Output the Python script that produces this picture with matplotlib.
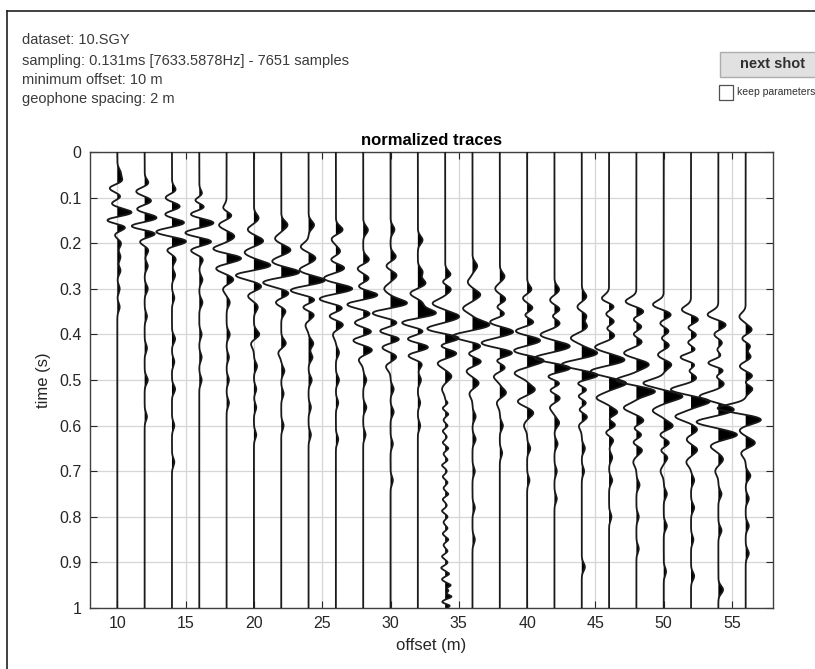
import numpy as np
import matplotlib
matplotlib.use('Agg')
import matplotlib.pyplot as plt
from matplotlib.patches import Rectangle
from matplotlib.lines import Line2D

plt.rcParams['font.family'] = ['Liberation Sans', 'DejaVu Sans']

# geophone offsets (m)
offsets = list(range(10, 58, 2))

# picked wavelet lobes per trace: (time s, normalized amplitude), + to the right
lobes = [
    [(0.045, 0.2), (0.065, 0.4), (0.078, -0.6), (0.10, 0.35), (0.112, -0.5), (0.134, 1.1), (0.149, -1.0),
     (0.164, 0.7), (0.18, -0.25), (0.20, 0.25), (0.23, 0.2), (0.26, 0.2), (0.30, 0.15), (0.34, 0.15)],
    [(0.07, 0.3), (0.086, -0.6), (0.108, 0.5), (0.125, -0.6), (0.145, 0.9), (0.163, -1.1), (0.178, 0.9),
     (0.195, -0.4), (0.215, 0.25), (0.25, 0.2), (0.30, 0.2), (0.36, 0.15), (0.43, 0.15), (0.50, 0.2), (0.58, 0.15)],
    [(0.085, 0.3), (0.10, -0.5), (0.12, 0.6), (0.137, -0.6), (0.155, 0.9), (0.175, -1.1), (0.196, 1.0),
     (0.213, -0.4), (0.235, 0.25), (0.27, 0.2), (0.32, 0.15), (0.41, 0.2), (0.46, 0.15), (0.52, 0.2),
     (0.60, 0.15), (0.68, 0.15)],
    [(0.095, 0.3), (0.106, -0.5), (0.12, 0.5), (0.137, -0.7), (0.155, 1.0), (0.178, -1.0), (0.196, 0.9),
     (0.215, -0.6), (0.235, 0.25), (0.28, 0.2), (0.33, 0.2), (0.40, 0.15), (0.45, 0.15), (0.50, 0.15)],
    [(0.125, -0.3), (0.138, 0.4), (0.16, -0.5), (0.185, 0.5), (0.213, -0.9), (0.233, 1.0), (0.255, -0.7),
     (0.28, 0.45), (0.30, -0.25), (0.33, 0.2), (0.40, 0.2), (0.45, 0.15), (0.50, 0.15), (0.55, 0.15)],
    [(0.145, 0.3), (0.17, -0.4), (0.195, 0.6), (0.22, -0.6), (0.249, 1.1), (0.27, -1.2), (0.295, 0.5),
     (0.315, -0.4), (0.34, 0.25), (0.40, 0.35), (0.42, -0.2), (0.47, 0.2), (0.52, 0.15), (0.56, 0.15), (0.62, 0.15)],
    [(0.16, 0.4), (0.19, -0.4), (0.215, 0.6), (0.24, -0.6), (0.264, 1.2), (0.286, -1.2), (0.31, 0.5),
     (0.33, -0.4), (0.348, 0.3), (0.42, 0.3), (0.44, -0.2), (0.48, 0.2), (0.53, 0.15), (0.60, 0.15)],
    [(0.16, 0.35), (0.208, -0.5), (0.233, 0.45), (0.259, -0.6), (0.282, 1.1), (0.303, -1.2), (0.325, 0.5),
     (0.34, -0.5), (0.356, 0.4), (0.38, -0.2), (0.42, 0.3), (0.45, 0.25), (0.50, 0.2), (0.56, 0.15), (0.62, 0.15)],
    [(0.171, 0.45), (0.19, -0.3), (0.219, 0.3), (0.237, -0.4), (0.254, 0.6), (0.277, -0.8), (0.30, 1.1),
     (0.322, -1.1), (0.342, 0.5), (0.36, -0.5), (0.378, 0.5), (0.40, -0.2), (0.44, 0.2), (0.50, 0.2),
     (0.55, 0.15), (0.63, 0.15)],
    [(0.171, 0.3), (0.237, 0.4), (0.255, -0.4), (0.278, 0.4), (0.295, -0.4), (0.314, 1.0), (0.334, -1.1),
     (0.354, 0.5), (0.375, -0.6), (0.394, 0.6), (0.413, -0.7), (0.434, 0.6), (0.455, -0.3), (0.50, 0.2),
     (0.56, 0.2), (0.62, 0.15)],
    [(0.17, 0.25), (0.23, 0.35), (0.25, -0.3), (0.27, 0.4), (0.30, -0.4), (0.332, 1.1), (0.353, -1.2),
     (0.375, 0.5), (0.393, -0.8), (0.41, 0.7), (0.428, -0.6), (0.449, 0.4), (0.47, -0.3), (0.52, 0.2),
     (0.57, 0.2), (0.64, 0.15), (0.72, 0.15)],
    [(0.193, 0.3), (0.263, 0.3), (0.288, 0.5), (0.31, -0.5), (0.332, 0.3), (0.354, 1.2), (0.374, -1.1),
     (0.394, 0.5), (0.41, -0.8), (0.428, 0.8), (0.446, -0.7), (0.464, 0.3), (0.50, 0.2), (0.55, 0.15), (0.60, 0.15)],
    [(0.27, 0.4), (0.284, -0.3), (0.30, 0.4), (0.332, -0.8), (0.361, 0.9), (0.388, -1.2), (0.408, 1.0),
     (0.425, -0.5), (0.441, 0.8), (0.463, -0.5), (0.492, 0.4), (0.52, -0.2)],
    [(0.25, 0.3), (0.285, -0.3), (0.313, 0.5), (0.343, -0.6), (0.379, 1.1), (0.404, -1.3), (0.426, 0.6),
     (0.442, -0.4), (0.459, 0.6), (0.48, -0.4), (0.507, 0.4), (0.53, -0.2), (0.58, 0.2), (0.63, 0.2),
     (0.70, 0.15), (0.78, 0.15), (0.85, 0.15)],
    [(0.273, 0.3), (0.30, -0.3), (0.324, 0.4), (0.34, -0.3), (0.355, 0.4), (0.373, -0.7), (0.394, 0.9),
     (0.419, -1.2), (0.441, 0.9), (0.456, -0.4), (0.472, 0.4), (0.492, -0.4), (0.528, 0.4), (0.55, -0.2),
     (0.60, 0.2), (0.66, 0.15)],
    [(0.302, 0.3), (0.32, -0.3), (0.343, 0.4), (0.358, -0.3), (0.373, 0.5), (0.393, -0.8), (0.413, 0.9),
     (0.436, -0.9), (0.457, 1.1), (0.485, -0.8), (0.521, 0.5), (0.547, -0.6), (0.572, 0.4), (0.60, -0.2),
     (0.65, 0.2), (0.72, 0.15)],
    [(0.302, 0.3), (0.325, -0.3), (0.346, 0.4), (0.36, -0.3), (0.374, 0.4), (0.401, -0.9), (0.426, 1.0),
     (0.452, -1.3), (0.474, 1.1), (0.492, -0.6), (0.507, 0.5), (0.522, -0.4), (0.539, 0.4), (0.56, -0.3),
     (0.594, 0.3), (0.64, 0.2), (0.70, 0.15), (0.76, 0.15)],
    [(0.317, 0.3), (0.34, -0.3), (0.361, 0.4), (0.37, -0.2), (0.381, 0.4), (0.408, -0.7), (0.441, 1.0),
     (0.466, -1.3), (0.49, 1.1), (0.507, -0.5), (0.521, 0.5), (0.535, -0.4), (0.55, 0.4), (0.565, -0.3),
     (0.58, 0.4), (0.60, -0.2), (0.65, 0.2), (0.70, 0.15), (0.91, 0.2)],
    [(0.322, -0.5), (0.339, 0.4), (0.355, -0.3), (0.372, 0.4), (0.387, -0.3), (0.401, 0.4), (0.428, -0.9),
     (0.456, 1.0), (0.481, -1.2), (0.507, 1.1), (0.539, -0.8), (0.572, 0.6), (0.585, -0.3), (0.598, 0.5),
     (0.615, -0.3), (0.631, 0.3), (0.67, 0.2), (0.72, 0.2), (0.80, 0.15)],
    [(0.328, -0.7), (0.35, 0.5), (0.367, -0.3), (0.383, 0.4), (0.40, -0.3), (0.415, 0.4), (0.441, -0.8),
     (0.466, 0.8), (0.50, -1.3), (0.525, 1.2), (0.561, -0.8), (0.59, 0.5), (0.605, -0.3), (0.62, 0.4),
     (0.637, -0.3), (0.653, 0.4), (0.68, -0.2), (0.73, 0.2), (0.80, 0.15), (0.87, 0.15)],
    [(0.335, -0.7), (0.357, 0.5), (0.375, -0.3), (0.394, 0.4), (0.408, -0.3), (0.423, 0.4), (0.445, -0.4),
     (0.466, 0.5), (0.507, -1.3), (0.536, 1.2), (0.567, -0.7), (0.601, 0.6), (0.62, -0.3), (0.638, 0.4),
     (0.655, -0.3), (0.668, 0.3), (0.70, -0.2), (0.75, 0.2), (0.82, 0.2), (0.92, 0.15)],
    [(0.346, -0.6), (0.368, 0.5), (0.385, -0.3), (0.401, 0.4), (0.418, -0.3), (0.434, 0.4), (0.45, -0.8),
     (0.466, 0.4), (0.48, -0.3), (0.494, 0.4), (0.521, -1.3), (0.547, 1.2), (0.58, -1.0), (0.609, 0.4),
     (0.63, -0.3), (0.653, 0.4), (0.68, -0.3), (0.72, 0.2), (0.78, 0.2), (0.85, 0.15), (0.93, 0.2)],
    [(0.357, -0.7), (0.379, 0.5), (0.40, -0.3), (0.419, 0.3), (0.433, -0.2), (0.448, 0.3), (0.463, -0.8),
     (0.478, 0.5), (0.492, -0.3), (0.507, 0.4), (0.536, -1.2), (0.565, 1.0), (0.592, -1.4), (0.62, 1.2),
     (0.645, -0.5), (0.674, 0.3), (0.70, -0.2), (0.75, 0.2), (0.83, 0.2), (0.96, 0.3)],
    [(0.361, -0.4), (0.39, 0.4), (0.41, -0.3), (0.426, 0.4), (0.437, -0.2), (0.448, 0.4), (0.47, -0.4),
     (0.492, 0.5), (0.505, -0.3), (0.518, 0.5), (0.562, -1.8), (0.587, 1.0), (0.61, -0.4), (0.638, 0.6),
     (0.66, -0.3), (0.71, 0.3), (0.76, 0.2), (0.82, 0.2), (0.88, 0.2)],
]

# short, jittery noise on the 34 m trace
noise34_t = [0.55, 0.562, 0.575, 0.588, 0.60, 0.612, 0.625, 0.637, 0.65, 0.662, 0.675, 0.687, 0.70,
             0.712, 0.725, 0.737, 0.75, 0.762, 0.775, 0.787, 0.80, 0.812, 0.825, 0.837, 0.85, 0.862,
             0.875, 0.887, 0.90, 0.912, 0.925, 0.937, 0.95, 0.962, 0.975, 0.987, 0.995]
noise34_a = [0.15, -0.15, 0.2, -0.1, 0.15, -0.15, 0.1, -0.15, 0.2, -0.1, 0.15, -0.2, 0.1,
             -0.15, 0.15, -0.1, 0.2, -0.15, 0.1, -0.2, 0.15, -0.1, 0.15, -0.15, 0.2, -0.1,
             0.15, -0.2, 0.15, -0.25, 0.25, -0.2, 0.35, 0.2, 0.4, -0.2, 0.3]

info_lines = ["dataset: 10.SGY",
              "sampling: 0.131ms [7633.5878Hz] - 7651 samples",
              "minimum offset: 10 m",
              "geophone spacing: 2 m"]

t = np.linspace(0, 1, 3000)
sig = 0.0085   # lobe half-width (s)
gain = 1.15    # display gain, offset units per normalized amplitude


def build_trace(picks, width):
    s = np.zeros_like(t)
    for tc, a in picks:
        s += a * np.exp(-0.5 * ((t - tc) / width) ** 2)
    return s


W, H = 815, 669
fig = plt.figure(figsize=(W / 100, H / 100), dpi=100)
ax = fig.add_axes([90 / W, 1 - 608 / H, (773 - 90) / W, (608 - 152) / H])

for off, picks in zip(offsets, lobes):
    s = build_trace(picks, sig)
    if off == 34:
        s = s + build_trace(list(zip(noise34_t, noise34_a)), 0.0035)
    x = off + gain * s
    ax.fill_betweenx(t, off, x, where=s > 0, color='black', lw=0, zorder=3)
    ax.plot(x, t, color='#1a1a1a', lw=1.3, zorder=4)

ax.set_xlim(8, 58)
ax.set_ylim(1, 0)
ax.set_xticks(np.arange(10, 56, 5))
ax.set_yticks(np.round(np.arange(0, 1.01, 0.1), 1))
ax.set_yticklabels(['0'] + ['%.1f' % v for v in np.arange(0.1, 0.95, 0.1)] + ['1'])
ax.grid(True, color='#d6d6d6', lw=0.9, zorder=0)
ax.tick_params(direction='in', top=True, right=True, length=5, width=0.8,
               colors='#262626', labelsize=11.5, pad=6)
for sp in ax.spines.values():
    sp.set_color('#404040')
    sp.set_linewidth(1.0)
ax.set_xlabel('offset (m)', fontsize=12, color='#262626', labelpad=5)
ax.set_ylabel('time (s)', fontsize=12, color='#262626', labelpad=6)
ax.set_title('normalized traces', fontsize=12, fontweight='bold', pad=5)

# header info
for i, line in enumerate(info_lines):
    y = [40, 61, 80, 99][i]
    fig.text(22 / W, 1 - y / H, line, fontsize=10.5, color='#3a3a3a', va='center', ha='left')

# button and checkbox
fig.patches.append(Rectangle((720 / W, 1 - 77 / H), 100 / W, 25 / H, transform=fig.transFigure,
                             facecolor='#e1e1e1', edgecolor='#adadad', lw=1))
fig.text(773 / W, 1 - 64 / H, 'next shot', fontsize=10.5, fontweight='bold',
         color='#303030', ha='center', va='center')
fig.patches.append(Rectangle((719 / W, 1 - 100 / H), 14 / W, 15 / H, transform=fig.transFigure,
                             facecolor='white', edgecolor='#505050', lw=0.9))
fig.text(737 / W, 1 - 92 / H, 'keep parameters', fontsize=7.5, color='#303030',
         ha='left', va='center')

# window border
fig.add_artist(Line2D([7 / W, 1], [1 - 11 / H, 1 - 11 / H], color='#202020', lw=1.2))
fig.add_artist(Line2D([7 / W, 7 / W], [0, 1 - 11 / H], color='#202020', lw=1.2))

fig.savefig('out.png', dpi=100)
